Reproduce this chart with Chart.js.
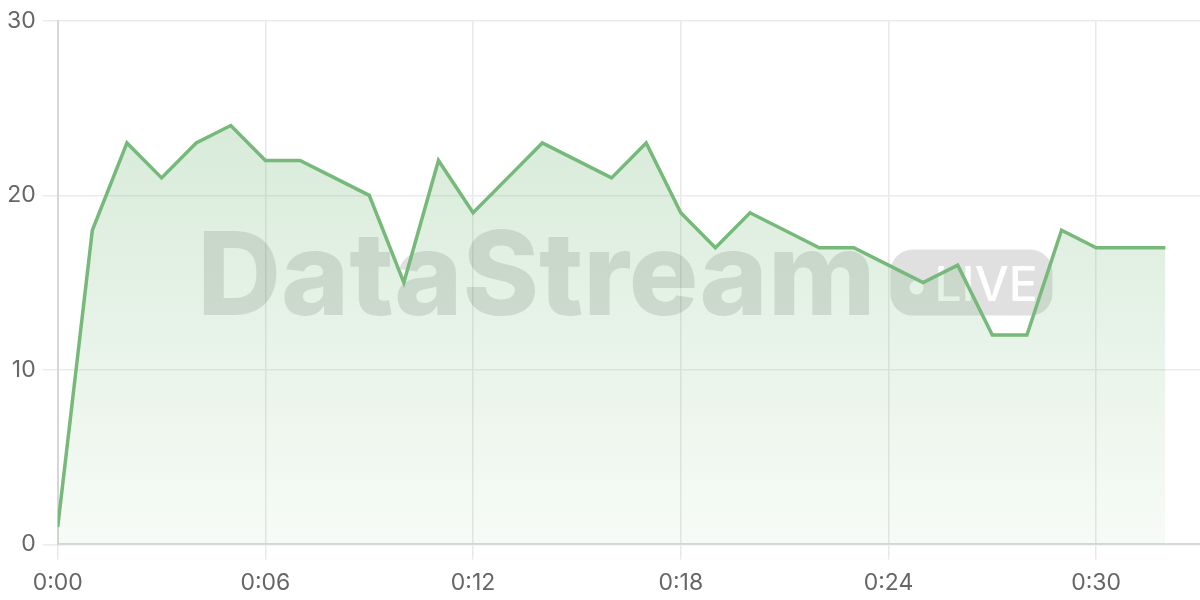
<!DOCTYPE html>
<html>
<head>
<meta charset="utf-8">
<script src="https://cdn.jsdelivr.net/npm/chart.js@4.4.1/dist/chart.umd.min.js"></script>
<style>
  html, body { margin: 0; padding: 0; background: #fff; }
  #wrap { width: 1200px; height: 600px; }
</style>
</head>
<body>
<div id="wrap"><canvas id="streamChart" width="1200" height="600"></canvas></div>
<script>
// seconds since start, and the reading at each second
const seconds = [0, 1, 2, 3, 4, 5, 6, 7, 8, 9, 10, 11, 12, 13, 14, 15, 16,
                 17, 18, 19, 20, 21, 22, 23, 24, 25, 26, 27, 28, 29, 30, 31, 32];
const readings = [1, 18, 23, 21, 23, 24, 22, 22, 21, 20, 15, 22, 19, 21, 23, 22, 21,
                  23, 19, 17, 19, 18, 17, 17, 16, 15, 16, 12, 12, 18, 17, 17, 17];
const xTicks = [0, 6, 12, 18, 24, 30];
const yTicks = [0, 10, 20, 30];

const lineColor = '#76b97a';
const tickFont = { family: 'Inter, "Helvetica Neue", Arial, sans-serif', size: 23 };

function fmtTime(s) {
  const m = Math.floor(s / 60);
  const ss = s % 60;
  return m + ':' + String(ss).padStart(2, '0');
}

// faint "DataStream LIVE" mark behind the line
const watermark = {
  id: 'watermark',
  beforeDatasetsDraw(chart) {
    const { ctx, chartArea } = chart;
    const cx = (chartArea.left + chartArea.right) / 2 - 4;
    const cy = (chartArea.top + chartArea.bottom) / 2;
    ctx.save();
    ctx.font = '800 116px Inter, "Open Sans", sans-serif';
    const textW = ctx.measureText('DataStream').width;
    const pillW = 162, pillH = 66, gap = 15;
    const x0 = cx - (textW + gap + pillW) / 2;
    ctx.fillStyle = 'rgba(0,0,0,0.12)';
    ctx.textBaseline = 'alphabetic';
    ctx.textAlign = 'left';
    ctx.fillText('DataStream', x0, cy + 32);
    const px = x0 + textW + gap, py = cy - pillH / 2;
    ctx.beginPath();
    ctx.roundRect(px, py, pillW, pillH, 22);
    ctx.fill();
    ctx.fillStyle = 'rgba(255,255,255,0.95)';
    ctx.beginPath();
    ctx.arc(px + 26, cy + 5, 7, 0, Math.PI * 2);
    ctx.fill();
    ctx.font = '500 48px Inter, "Open Sans", sans-serif';
    ctx.fillText('LIVE', px + 44, cy + 18);
    ctx.restore();
  }
};

new Chart(document.getElementById('streamChart'), {
  type: 'line',
  data: {
    datasets: [{
      data: seconds.map((s, i) => ({ x: s, y: readings[i] })),
      borderColor: lineColor,
      borderWidth: 3.5,
      pointRadius: 0,
      tension: 0,
      fill: 'origin',
      backgroundColor(context) {
        const area = context.chart.chartArea;
        if (!area) return 'rgba(118,185,122,0.2)';
        const g = context.chart.ctx.createLinearGradient(0, area.top, 0, area.bottom);
        g.addColorStop(0, 'rgba(118,185,122,0.34)');
        g.addColorStop(1, 'rgba(118,185,122,0.06)');
        return g;
      }
    }]
  },
  options: {
    responsive: false,
    devicePixelRatio: 1,
    animation: false,
    layout: { padding: { top: 6, right: 0, left: 0, bottom: -7 } },
    plugins: { legend: { display: false }, tooltip: { enabled: false } },
    scales: {
      x: {
        type: 'linear',
        min: 0,
        max: 33,
        afterBuildTicks(axis) { axis.ticks = xTicks.map(v => ({ value: v })); },
        ticks: { color: '#666', font: tickFont, padding: 10, maxRotation: 0,
                 callback: v => fmtTime(v) },
        grid: { color: '#e8e8e8', lineWidth: 1.5, tickLength: 15 },
        border: { color: '#d5dad5', width: 2 }
      },
      y: {
        min: 0,
        max: 30,
        afterBuildTicks(axis) { axis.ticks = yTicks.map(v => ({ value: v })); },
        ticks: { color: '#666', font: tickFont, padding: 7 },
        grid: { color: '#ebebeb', lineWidth: 1.5, tickLength: 15 },
        border: { color: '#d6d6d6', width: 2 }
      }
    }
  },
  plugins: [watermark]
});
</script>
</body>
</html>
